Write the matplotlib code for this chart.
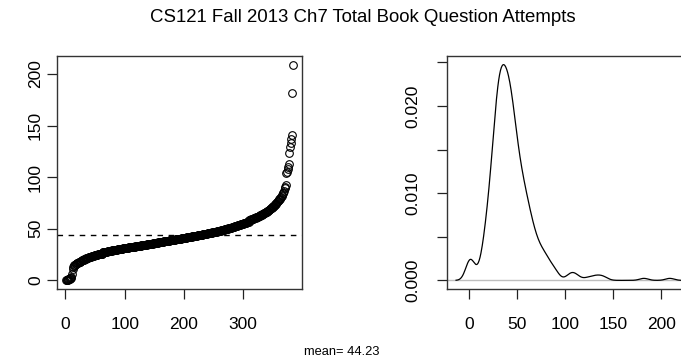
import numpy as np
import matplotlib
matplotlib.use("Agg")
import matplotlib.pyplot as plt

plt.rcParams['font.family'] = ['Liberation Sans', 'DejaVu Sans']

# Tally of total book question attempts: attempt count -> number of students
attempt_values = [0, 1, 2, 3, 6, 11, 13, 14, 15, 16, 17, 18, 19, 20, 21,
                  22, 23, 24, 25, 26, 27, 28, 29, 30, 31, 32, 33, 34, 35, 36, 37, 38,
                  39, 40, 41, 42, 43, 44, 45, 46, 47, 48, 49, 50, 51, 52, 53, 54, 55,
                  56, 57, 58, 59, 60, 61, 62, 63, 64, 65, 66, 67, 68, 69, 70, 71, 72,
                  73, 74, 75, 76, 77, 78, 79, 80, 81, 82, 83, 85, 87, 89, 90, 92,
                  104, 105, 108, 110, 113, 123, 129, 133, 137, 141, 182, 209]
student_counts = [4, 3, 2, 1, 1, 1, 1, 1, 2, 2, 3, 4, 2, 4, 3,
                  4, 5, 5, 6, 8, 8, 8, 9, 9, 10, 11, 10, 10, 10, 9, 9, 10,
                  10, 10, 9, 9, 9, 9, 8, 8, 8, 7, 6, 6, 6, 5, 5, 5, 5,
                  5, 4, 4, 4, 4, 4, 3, 3, 3, 3, 3, 2, 2, 2, 2, 2, 2,
                  1, 2, 1, 1, 2, 1, 2, 1, 1, 1, 1, 2, 1, 1, 1, 1,
                  1, 1, 1, 1, 1, 1, 1, 1, 1, 1, 1, 1]

left_xticks = [0, 100, 200, 300]
left_yticks = [0, 50, 100, 150, 200]
right_xticks = [0, 50, 100, 150, 200]
right_yticks = [0.000, 0.005, 0.010, 0.015, 0.020, 0.025]
right_ylabels = ["0.000", "", "0.010", "", "0.020", ""]

title_text = "CS121 Fall 2013 Ch7 Total Book Question Attempts"

attempts = np.repeat(np.array(attempt_values, float), student_counts)
attempts_sorted = np.sort(attempts)
n = attempts.size
mean_val = attempts.mean()

# Gaussian kernel density with the nrd0 rule-of-thumb bandwidth
q75, q25 = np.percentile(attempts, [75, 25])
bw = 0.9 * min(attempts.std(ddof=1), (q75 - q25) / 1.34) * n ** -0.2
grid = np.linspace(attempts.min() - 3 * bw, attempts.max() + 3 * bw, 512)
dens = np.exp(-0.5 * ((grid[:, None] - attempts[None, :]) / bw) ** 2).sum(axis=1)
dens /= n * bw * np.sqrt(2 * np.pi)


def padded(lo, hi, frac=0.04):
    d = (hi - lo) * frac
    return lo - d, hi + d


W, H = 681, 362
fig = plt.figure(figsize=(W / 100, H / 100), dpi=100)

ax1 = fig.add_axes([57 / W, (H - 289) / H, 245 / W, 233 / H])
ax2 = fig.add_axes([447 / W, (H - 289) / H, 245 / W, 233 / H])

tick_fs = 12.5
for ax in (ax1, ax2):
    for sp in ax.spines.values():
        sp.set_color('#333333')
        sp.set_linewidth(1.0)
    ax.tick_params(direction='out', length=7.5, width=0.9, color='#222222',
                   labelsize=tick_fs)
    ax.tick_params(axis='x', pad=13)
ax1.tick_params(axis='y', pad=2.5)
ax2.tick_params(axis='y', pad=12)

# Left: sorted attempts with mean line
idx = np.arange(1, n + 1)
ax1.plot(idx, attempts_sorted, 'o', mfc='none', mec='black', ms=5.5, mew=0.8)
ax1.axhline(mean_val, color='black', lw=1.0, ls=(0, (4, 4)))
ax1.set_xlim(*padded(1, n))
ax1.set_ylim(*padded(attempts_sorted.min(), attempts_sorted.max()))
ax1.set_xticks(left_xticks)
ax1.set_yticks(left_yticks)
ax1.set_yticklabels([str(v) for v in left_yticks], rotation=90, va='center')

# Right: density estimate
ax2.axhline(0, color='#BEBEBE', lw=1.0)
ax2.plot(grid, dens, color='black', lw=0.9)
ax2.set_xlim(*padded(grid.min(), grid.max()))
ax2.set_ylim(*padded(0, dens.max()))
ax2.set_xticks(right_xticks)
ax2.set_yticks(right_yticks)
ax2.set_yticklabels(right_ylabels, rotation=90, va='center')

fig.text(363 / W, 1 - 18 / H, title_text, ha='center', va='center', fontsize=13.4)
fig.text(342 / W, 1 - 352 / H, "mean= %.2f" % mean_val, ha='center', va='center',
         fontsize=9.3)

fig.savefig("out.png", dpi=100)
